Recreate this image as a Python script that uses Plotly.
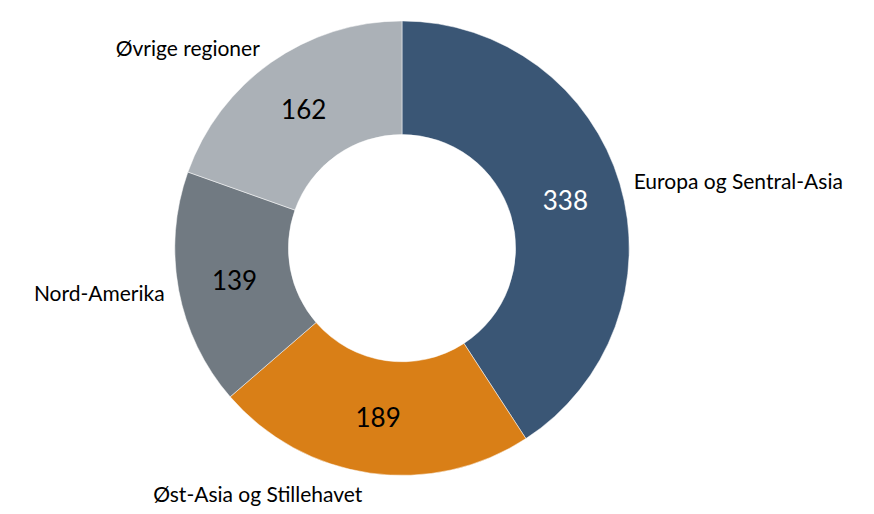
import plotly.graph_objects as go

categories = ["Europa og Sentral-Asia", "Øst-Asia og Stillehavet", "Nord-Amerika", "Øvrige regioner"]
values = [338, 189, 139, 162]
colors = ["#3A5675", "#D97F17", "#717A82", "#ABB1B7"]
value_font_colors = ["white", "black", "black", "black"]

W, H = 874, 514
cx, cy, r = 394, 238, 229


def dom(rad):
    return dict(x=[max(0, (cx - rad) / W), min(1, (cx + rad) / W)],
                y=[max(0, (H - cy - rad) / H), min(1, (H - cy + rad) / H)])


fig = go.Figure()
fig.add_trace(go.Pie(
    values=values, labels=categories, hole=0.5, sort=False, direction="clockwise",
    rotation=0, marker=dict(colors=colors, line=dict(color="white", width=0.5)),
    textinfo="value", textposition="inside", insidetextorientation="horizontal",
    textfont=dict(size=26, color=value_font_colors, family="Lato"),
    domain=dom(r), showlegend=False, hoverinfo="label+value",
))
fig.add_trace(go.Pie(
    values=values, labels=categories, hole=0.9, sort=False, direction="clockwise",
    rotation=0, marker=dict(colors=["rgba(0,0,0,0)"] * 4, line=dict(width=0)),
    textinfo="label", textposition="outside",
    textfont=dict(size=21, color="black", family="Lato"),
    domain=dom(r + 8), showlegend=False, hoverinfo="skip",
))
fig.update_layout(
    width=W, height=H, margin=dict(l=0, r=0, t=0, b=0),
    paper_bgcolor="white", plot_bgcolor="white",
    font=dict(family="Lato"),
)
fig.write_html("out.html")
